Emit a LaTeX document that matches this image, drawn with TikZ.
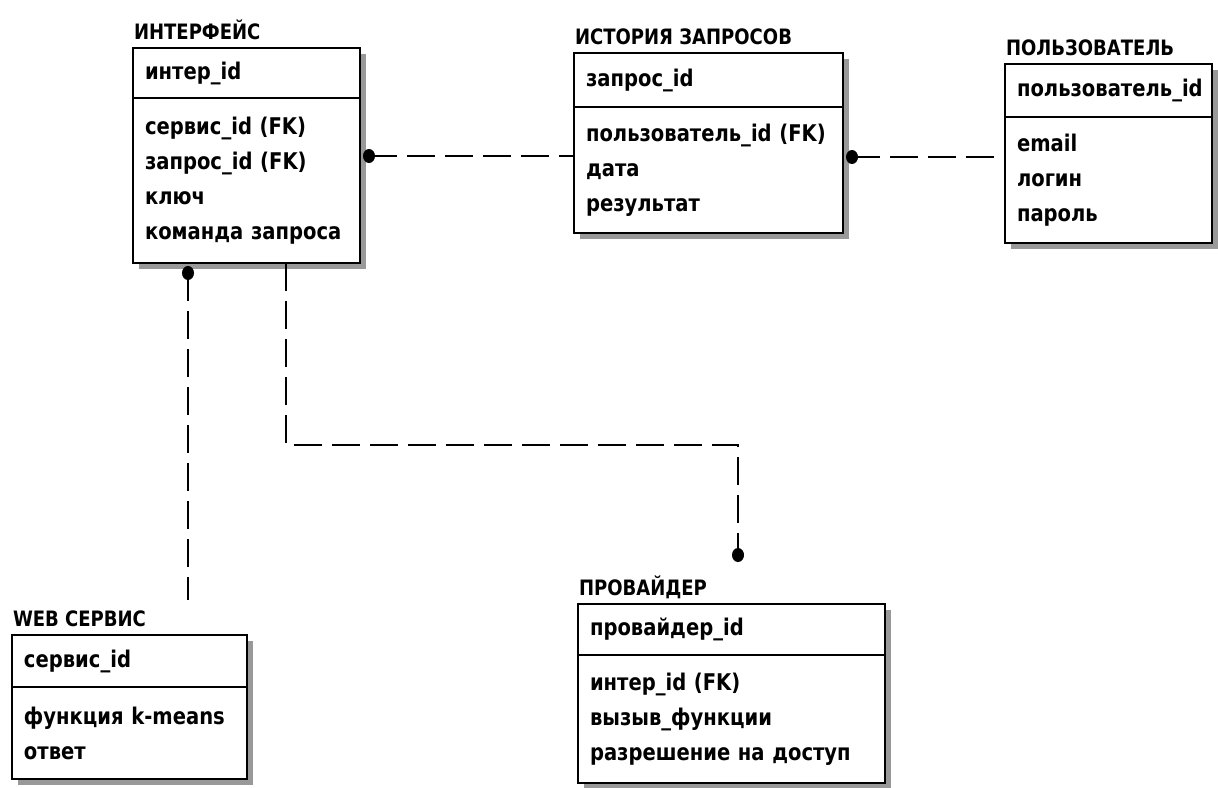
\documentclass[tikz,border=0pt]{standalone}
\usepackage{fontspec}
\newfontfamily\erfont[FakeStretch=0.85]{DejaVu Sans}
\usetikzlibrary{positioning,calc,shadows}
\begin{document}
\begin{tikzpicture}[x=0.5pt,y=-0.5pt,line width=1pt,
    ent/.style={draw, fill=white, rectangle, outer sep=0pt, inner xsep=6pt, inner ysep=0pt,
      align=left, font=\erfont\bfseries\fontsize{11.5}{17.5}\selectfont,
      drop shadow={shadow xshift=3pt, shadow yshift=-3pt, fill=black!40, opacity=1}},
    ttl/.style={inner sep=0pt, font=\erfont\bfseries\fontsize{10.6}{12}\selectfont},
    rel/.style={dash pattern=on 14pt off 5pt}]
  \useasboundingbox (0,0) rectangle (1218,787);

  \node[ent, anchor=north west, text width=101.5pt, minimum height=25pt] (ik) at (133,48) {интер\_id};
  \node[ent, below=0pt of ik, text width=101.5pt, minimum height=82.5pt] (ia) {сервис\_id (FK)\\запрос\_id (FK)\\ключ\\команда запроса};
  \node[ttl, above right=4.5pt and 0pt of ik.north west, anchor=base west] (it) {ИНТЕРФЕЙС};

  \node[ent, anchor=north west, text width=122.5pt, minimum height=27pt] (hk) at (574,53) {запрос\_id};
  \node[ent, below=0pt of hk, text width=122.5pt, minimum height=63pt] (ha) {пользователь\_id (FK)\\дата\\результат};
  \node[ttl, above right=4.5pt and 0pt of hk.north west, anchor=base west] (ht) {ИСТОРИЯ ЗАПРОСОВ};

  \node[ent, anchor=north west, text width=91.5pt, minimum height=26.5pt] (uk) at (1005,64) {пользователь\_id};
  \node[ent, below=0pt of uk, text width=91.5pt, minimum height=63pt] (ua) {email\\логин\\пароль};
  \node[ttl, above right=4.5pt and 0pt of uk.north west, anchor=base west] (ut) {ПОЛЬЗОВАТЕЛЬ};

  \node[ent, anchor=north west, text width=105.5pt, minimum height=26pt] (wk) at (12,635) {сервис\_id};
  \node[ent, below=0pt of wk, text width=105.5pt, minimum height=46pt] (wa) {функция k-means\\ответ};
  \node[ttl, above right=4.5pt and 0pt of wk.north west, anchor=base west] (wt) {WEB СЕРВИС};

  \node[ent, anchor=north west, text width=141.5pt, minimum height=25.5pt] (pk) at (578,604) {провайдер\_id};
  \node[ent, below=0pt of pk, text width=141.5pt, minimum height=64pt] (pa) {интер\_id (FK)\\вызыв\_функции\\разрешение на доступ};
  \node[ttl, above right=4.5pt and 0pt of pk.north west, anchor=base west] (pt) {ПРОВАЙДЕР};

  \coordinate (d1) at ($(ia.north east)+(9,58)$);
  \coordinate (d2) at ($(ha.north east)+(9,50)$);
  \coordinate (d3) at ($(ia.south west)+(55,10)$);
  \coordinate (w3) at ($(wk.north west)+(176,-35)$);
  \coordinate (s4) at ($(ia.south west)+(153,0)$);
  \coordinate (d4) at ($(pk.north west)+(160,-49)$);

  \draw[rel] (d1) -- (d1 -| ha.west);
  \draw[rel] (d2) -- (d2 -| ua.west);
  \draw[rel] (d3) -- (w3);
  \draw[rel] (s4) |- ($(d4)+(0,-110)$) -- (d4);
  \foreach \d in {d1,d2,d3,d4}
    \fill (\d) ellipse (3pt and 3.5pt);
\end{tikzpicture}
\end{document}
